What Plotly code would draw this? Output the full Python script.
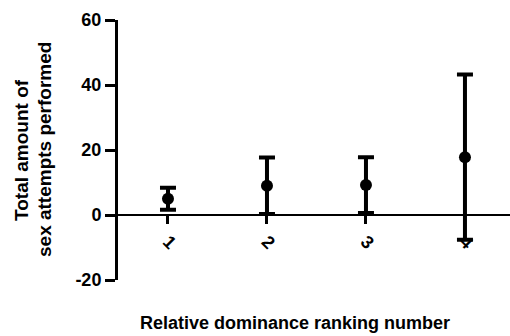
import plotly.graph_objects as go

ranks = [1, 2, 3, 4]
rank_labels = ["1", "2", "3", "4"]
means = [5.0, 9.0, 9.2, 17.8]
errors = [3.4, 8.7, 8.6, 25.4]
y_ticks = [-20, 0, 20, 40, 60]
y_tick_labels = ["-20", "0", "20", "40", "60"]

W, H = 510, 336
ml, mr, mt, mb = 118, 0, 20, 56
pw, ph = W - ml - mr, H - mt - mb

def px_x(p):
    return (p - ml) / pw

def px_y(p):
    return (H - mb - p) / ph

fig = go.Figure()
fig.add_trace(go.Scatter(
    x=ranks, y=means, mode="markers",
    marker=dict(color="black", size=12),
    error_y=dict(type="data", array=errors, visible=True,
                 color="black", thickness=4, width=8),
    showlegend=False,
))

font = dict(family="Liberation Sans, Arial, sans-serif", color="black")

fig.update_layout(
    width=W, height=H,
    margin=dict(l=ml, r=mr, t=mt, b=mb),
    paper_bgcolor="white", plot_bgcolor="white",
    xaxis=dict(
        range=[0.495, 4.455], tickvals=ranks, ticktext=rank_labels,
        tickangle=45, showline=True, linecolor="black", linewidth=2,
        ticks="outside", ticklen=8, tickwidth=2.5, tickcolor="black",
        showgrid=False, zeroline=False, anchor="free", position=0.25,
        tickfont=dict(size=18, weight="bold", **font),
    ),
    yaxis=dict(
        range=[-20, 60], tickvals=y_ticks, ticktext=y_tick_labels,
        showline=True, linecolor="black", linewidth=3, ticks="outside",
        ticklen=10, tickwidth=2.5, tickcolor="black", showgrid=False,
        zeroline=False, ticklabelstandoff=0,
        tickfont=dict(size=18, weight="bold", **font),
    ),
    annotations=[
        dict(text="<b>Total amount of</b>", xref="paper", yref="paper",
             x=px_x(21), y=px_y(150), textangle=-90, showarrow=False,
             xanchor="center", yanchor="middle", font=dict(size=19, **font)),
        dict(text="<b>sex attempts performed</b>", xref="paper", yref="paper",
             x=px_x(44), y=px_y(150), textangle=-90, showarrow=False,
             xanchor="center", yanchor="middle", font=dict(size=19, **font)),
        dict(text="<b>Relative dominance ranking number</b>", xref="paper",
             yref="paper", x=px_x(295), y=px_y(323), showarrow=False,
             xanchor="center", yanchor="middle", font=dict(size=18, **font)),
    ],
)

fig.write_html("out.html")
